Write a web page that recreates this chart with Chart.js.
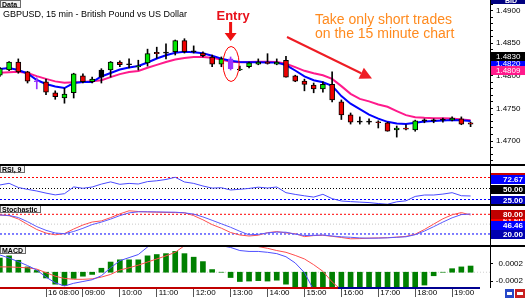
<!DOCTYPE html>
<html><head><meta charset="utf-8">
<script src="https://cdn.jsdelivr.net/npm/chart.js@4.4.0/dist/chart.umd.min.js"></script>
<style>
html,body{margin:0;padding:0;background:#fff;}
#wrap{position:relative;width:525px;height:298px;overflow:hidden;background:#fff;}
#wrap canvas{position:absolute;left:0;top:0;width:525px;height:298px;}
.ln{position:absolute;}
</style></head><body>
<div id="wrap">
<canvas id="cMain" width="525" height="298"></canvas>
<canvas id="cRsi" width="525" height="298"></canvas>
<canvas id="cSto" width="525" height="298"></canvas>
<canvas id="cMacd" width="525" height="298"></canvas>
<div class="ln" style="left:0;top:164px;width:525px;height:2px;background:#000"></div>
<div class="ln" style="left:0;top:204px;width:525px;height:2px;background:#000"></div>
<div class="ln" style="left:0;top:245px;width:525px;height:2px;background:#000"></div>
<div class="ln" style="left:490px;top:0;width:1px;height:288px;background:#000"></div>
<div class="ln" style="left:0;top:287px;width:338px;height:2px;background:#c00000"></div>
<div class="ln" style="left:338px;top:287px;width:142px;height:2px;background:#000090"></div>
<div class="ln" style="left:505px;top:289px;width:9px;height:9px;background:#2848c8"></div>
<div class="ln" style="left:507px;top:292px;width:5px;height:3px;background:#fff"></div>
<div class="ln" style="left:515px;top:289px;width:10px;height:9px;background:#c82020"></div>
<div class="ln" style="left:517px;top:292px;width:6px;height:3px;background:#fff"></div>
</div>
<script>
// ---------- DATA ----------
const times = ['06:45','07:00','07:15','07:30','07:45','08:00','08:15','08:30','08:45','09:00','09:15','09:30','09:45','10:00','10:15','10:30','10:45','11:00','11:15','11:30','11:45','12:00','12:15','12:30','12:45','13:00','13:15','13:30','13:45','14:00','14:15','14:30','14:45','15:00','15:15','15:30','15:45','16:00','16:15','16:30','16:45','17:00','17:15','17:30','17:45','18:00','18:15','18:30','18:45','19:00','19:15','19:30'];
const tickTimes = ['08:00','09:00','10:00','11:00','12:00','13:00','14:00','15:00','16:00','17:00','18:00','19:00'];
const tickLabels = ['16 08:00','09:00','10:00','11:00','12:00','13:00','14:00','15:00','16:00','17:00','18:00','19:00'];

const open  = [1.4801,1.4809,1.4821,1.4806,1.4791,1.4791,1.4774,1.4766,1.4774,1.4800,1.4791,1.4798,1.4809,1.4821,1.4817,1.4814,1.4820,1.4836,1.4835,1.4837,1.4854,1.4837,1.4835,1.4829,1.4818,1.4826,1.4809,1.4814,1.4818,1.4821,1.4818,1.4824,1.4800,1.4792,1.4786,1.4780,1.4787,1.4760,1.4740,1.4729,1.4729,1.4729,1.4728,1.4717,1.4720,1.4717,1.4731,1.4731,1.4732,1.4732,1.4734,1.4728];
const high  = [1.4813,1.4822,1.4826,1.4807,1.4797,1.4795,1.4777,1.4781,1.4804,1.4803,1.4798,1.4811,1.4822,1.4823,1.4826,1.4824,1.4841,1.4844,1.4849,1.4855,1.4857,1.4846,1.4837,1.4832,1.4829,1.4829,1.4815,1.4821,1.4826,1.4834,1.4826,1.4830,1.4801,1.4795,1.4789,1.4791,1.4806,1.4763,1.4743,1.4737,1.4734,1.4731,1.4729,1.4723,1.4725,1.4732,1.4734,1.4734,1.4735,1.4737,1.4737,1.4729];
const low   = [1.4799,1.4808,1.4804,1.4789,1.4780,1.4771,1.4764,1.4758,1.4766,1.4789,1.4789,1.4789,1.4798,1.4814,1.4812,1.4809,1.4815,1.4827,1.4826,1.4832,1.4835,1.4835,1.4829,1.4814,1.4814,1.4809,1.4808,1.4812,1.4817,1.4818,1.4817,1.4798,1.4791,1.4777,1.4774,1.4775,1.4760,1.4733,1.4726,1.4726,1.4726,1.4720,1.4715,1.4706,1.4717,1.4715,1.4728,1.4728,1.4729,1.4731,1.4725,1.4722];
const close = [1.4811,1.4821,1.4806,1.4792,1.4791,1.4775,1.4768,1.4772,1.4803,1.4791,1.4795,1.4809,1.4821,1.4817,1.4817,1.4815,1.4834,1.4834,1.4835,1.4854,1.4837,1.4837,1.4831,1.4818,1.4826,1.4811,1.4810,1.4820,1.4821,1.4819,1.4821,1.4798,1.4792,1.4787,1.4780,1.4787,1.4763,1.4740,1.4729,1.4729,1.4729,1.4728,1.4715,1.4720,1.4718,1.4731,1.4731,1.4731,1.4732,1.4735,1.4726,1.4726];
const maFast = [1.48105,1.48120,1.48090,1.48036,1.47936,1.47875,1.47836,1.47813,1.47890,1.47905,1.47905,1.47990,1.48044,1.48097,1.48128,1.48151,1.48205,1.48266,1.48315,1.48354,1.48369,1.48363,1.48346,1.48309,1.48264,1.48231,1.48212,1.48209,1.48208,1.48206,1.48203,1.48166,1.48082,1.47993,1.47933,1.47902,1.47847,1.47690,1.47572,1.47491,1.47406,1.47343,1.47294,1.47267,1.47261,1.47279,1.47301,1.47308,1.47314,1.47322,1.47320,1.47307];
const maSlow = [1.48048,1.48056,1.48062,1.48044,1.47996,1.47953,1.47915,1.47895,1.47901,1.47905,1.47916,1.47933,1.47981,1.48027,1.48060,1.48076,1.48125,1.48168,1.48212,1.48251,1.48275,1.48288,1.48291,1.48279,1.48249,1.48217,1.48208,1.48212,1.48217,1.48215,1.48214,1.48185,1.48133,1.48077,1.48039,1.48010,1.47953,1.47842,1.47724,1.47646,1.47608,1.47561,1.47526,1.47460,1.47397,1.47365,1.47356,1.47351,1.47348,1.47345,1.47331,1.47319];
const rsi = [58.0,61.8,52.3,48.0,44.3,39.5,35.5,38.2,53.6,50.5,53.4,60.0,65.0,59.5,61.6,60.2,65.7,67.5,70.5,75.5,64.8,61.6,55.7,50.9,51.8,46.6,48.2,50.2,53.0,51.1,53.4,40.5,36.6,33.4,30.5,36.8,27.0,21.6,20.2,19.1,18.0,15.9,14.3,19.8,22.0,32.0,35.2,35.2,37.3,40.5,33.6,33.0];
const rsiLevels = [75, 50, 25];
const stochMain = [77.9,76.6,70.2,57.4,42.5,31.2,23.0,20.8,27.6,37.3,48.6,56.2,65.4,76.0,84.3,87.6,87.6,87.3,86.7,86.4,84.3,80.6,72.1,61.7,51.0,40.4,28.2,17.5,18.7,23.3,25.7,25.4,19.3,15.4,15.7,16.9,13.8,11.4,9.9,8.0,7.1,7.4,8.3,9.9,11.4,17.8,28.8,42.2,56.2,69.3,79.1,80.9];
const stochSignal = [77.9,75.7,65.7,49.2,33.7,22.7,17.5,21.2,35.2,47.4,56.5,59.9,69.9,81.2,90.7,88.5,87.3,86.4,85.8,85.2,84.9,76.0,63.2,48.6,37.6,24.5,16.9,13.8,16.3,23.9,27.3,23.3,20.8,12.0,15.1,16.0,12.9,9.3,5.3,5.9,7.4,8.0,8.7,10.5,12.6,19.3,33.7,50.1,66.3,78.5,85.2,77.9];
const stochLevels = [80, 50, 20];
const macdHist = [0.00032,0.00037,0.00027,0.00012,0.00004,-0.00013,-0.00027,-0.00030,-0.00014,-0.00009,-0.00005,0.00009,0.00023,0.00028,0.00028,0.00028,0.00037,0.00040,0.00042,0.00047,0.00042,0.00034,0.00024,0.00006,0,-0.00012,-0.00021,-0.00020,-0.00019,-0.00020,-0.00018,-0.00027,-0.00038,-0.00045,-0.00050,-0.00055,-0.00060,-0.00062,-0.00063,-0.00062,-0.00060,-0.00058,-0.00055,-0.00050,-0.00045,-0.00033,-0.00029,-0.00008,0,0.00008,0.00012,0.00014];
const macdMain = [0.00039,0.00032,0.00024,0.00015,0.00005,-0.00011,-0.00024,-0.00031,-0.00025,-0.00021,-0.00017,-0.00008,0.00010,0.00026,0.00033,0.00040,0.00057,0.00070,0.00080,0.00088,0.00090,0.00086,0.00078,0.00068,0.00060,0.00056,0.00049,0.00047,0.00047,0.00045,0.00042,0.00035,0.00021,-0.00001,-0.00040,-0.00058,-0.00075,-0.00088,-0.00095,-0.00098,-0.00098,-0.00096,-0.00092,-0.00088,-0.00083,-0.00077,-0.00070,-0.00064,-0.00058,-0.00052,-0.00047,-0.00043];
const macdSignal = [0.00012,0.00012,0.00011,0.00010,0.00007,-0.00001,-0.00009,-0.00014,-0.00016,-0.00016,-0.00015,-0.00011,-0.00005,0.00005,0.00010,0.00016,0.00023,0.00030,0.00037,0.00045,0.00060,0.00066,0.00070,0.00072,0.00072,0.00070,0.00066,0.00061,0.00058,0.00054,0.00049,0.00045,0.00038,0.00030,0.00017,0.00002,-0.00022,-0.00040,-0.00052,-0.00063,-0.00072,-0.00080,-0.00085,-0.00088,-0.00090,-0.00090,-0.00088,-0.00086,-0.00083,-0.00080,-0.00076,-0.00072];
const macdTicks = [-0.0002, 0.0002];
const priceMarks = [1.4820, 1.4830, 1.4809];
const rsiMarks = [75, 72.67, 50, 25];
const stochMarks = [61.60, 80, 46.46, 20];
const entryTime = '13:00';

// ---------- STYLE / LAYOUT ----------
const FONT = "'Liberation Sans', Arial, sans-serif";
Chart.defaults.font.family = FONT;
Chart.defaults.font.size = 8;
Chart.defaults.color = '#000';
Chart.defaults.animation = false;
Chart.defaults.events = [];
Chart.defaults.plugins.legend.display = false;
Chart.defaults.plugins.tooltip.enabled = false;

const X_MIN = 0.016, X_MAX = 53.104;
const idx = times.map((t, i) => i);
const tickIdx = tickTimes.map(t => times.indexOf(t));
const entryIdx = times.indexOf(entryTime);
const special = {4: '#9933ff', 25: '#9933ff', 11: '#000000'};
const BULL = '#00e600', BEAR = '#ee0000';

function xAxis() {
  return {type: 'linear', min: X_MIN, max: X_MAX, offset: false, display: false, grid: {offset: false}};
}
function yRight(min, max, extra) {
  return Object.assign({
    position: 'right', min, max,
    afterFit(s) { s.width = 35; s.paddingTop = 0; s.paddingBottom = 0; },
    ticks: {display: false},
    grid: {display: false, drawOnChartArea: false},
    border: {display: true, color: '#000', width: 1}
  }, extra || {});
}
function series(arr) { return idx.map(i => ({x: i, y: arr[i]})); }
function level(v) { return [{x: X_MIN, y: v}, {x: X_MAX, y: v}]; }
function lineDs(data, color, width, dash, order) {
  return {type: 'line', data, borderColor: color, borderWidth: width, borderDash: dash || [], pointRadius: 0, tension: 0, fill: false, order: order || 0};
}

function drawTag(ctx, text, x, y) {
  ctx.save();
  ctx.font = 'bold 7px ' + FONT;
  const w = Math.ceil(ctx.measureText(text).width) + 5;
  ctx.fillStyle = '#f2f2f2'; ctx.fillRect(x, y, w, 8);
  ctx.strokeStyle = '#6a6a6a'; ctx.lineWidth = 1; ctx.strokeRect(x + 0.5, y + 0.5, w - 1, 7);
  ctx.fillStyle = '#000'; ctx.textAlign = 'left'; ctx.textBaseline = 'alphabetic';
  ctx.fillText(text, x + 2, y + 7);
  ctx.restore();
}

const panelPlugin = {
  id: 'panel',
  afterDraw(chart, args, opts) {
    const ctx = chart.ctx, y = chart.scales.y;
    (opts.items || []).forEach(it => {
      const py = Math.round(y.getPixelForValue(it.v));
      ctx.save();
      ctx.fillStyle = it.bg; ctx.fillRect(491, py - 4, 34, 9);
      ctx.fillStyle = '#fff';
      ctx.font = (opts.bold ? 'bold ' : '') + '8px ' + FONT;
      ctx.textBaseline = 'middle';
      if (opts.left) { ctx.textAlign = 'left'; ctx.fillText(it.text, 496, py + 0.5); }
      else { ctx.textAlign = 'right'; ctx.fillText(it.text, 523, py + 0.5); }
      ctx.restore();
    });
    if (opts.tag) drawTag(ctx, opts.tag, 0, chart.chartArea.top - 1);
  }
};

const annotPlugin = {
  id: 'annot',
  afterDraw(chart) {
    const ctx = chart.ctx, xs = chart.scales.x, ys = chart.scales.y;
    ctx.save();
    // Data button
    drawTag(ctx, 'Data', 0, 0);
    // BID box
    ctx.fillStyle = '#000080'; ctx.fillRect(491, 0, 34, 4);
    ctx.fillStyle = '#fff'; ctx.font = 'bold 7px ' + FONT; ctx.textAlign = 'left'; ctx.textBaseline = 'alphabetic';
    ctx.fillText('BID', 505, 3);
    // title
    ctx.fillStyle = '#000'; ctx.font = '9px ' + FONT;
    ctx.fillText('GBPUSD, 15 min - British Pound vs US Dollar', 3, 17);
    // entry marker
    const ex = xs.getPixelForValue(entryIdx);
    const ey = ys.getPixelForValue((high[entryIdx] + low[entryIdx]) / 2);
    ctx.fillStyle = '#e8101a'; ctx.font = 'bold 13px ' + FONT; ctx.textAlign = 'center';
    ctx.fillText('Entry', ex + 2.5, 19.5);
    ctx.fillStyle = '#ee1111';
    ctx.fillRect(ex - 1.5, 22, 3, 12);
    ctx.beginPath(); ctx.moveTo(ex - 6, 33); ctx.lineTo(ex + 6, 33); ctx.lineTo(ex, 41); ctx.closePath(); ctx.fill();
    ctx.strokeStyle = '#ff0000'; ctx.lineWidth = 1;
    ctx.beginPath(); ctx.ellipse(ex + 0.5, ey + 0.5, 8, 17.5, 0, 0, Math.PI * 2); ctx.stroke();
    // orange text
    ctx.fillStyle = '#ff8a1e'; ctx.font = '14px ' + FONT; ctx.textAlign = 'left';
    ctx.fillText('Take only short trades', 315, 24);
    ctx.fillText('on the 15 minute chart', 315, 37.5);
    // diagonal arrow
    const x0 = 287, y0 = 37, tx = 372, ty = 78.5;
    const dx = tx - x0, dy = ty - y0, L = Math.hypot(dx, dy), ux = dx / L, uy = dy / L;
    const bx = tx - 12 * ux, by = ty - 12 * uy;
    ctx.strokeStyle = '#ee1c24'; ctx.lineWidth = 2;
    ctx.beginPath(); ctx.moveTo(x0, y0); ctx.lineTo(bx, by); ctx.stroke();
    ctx.fillStyle = '#ee1c24';
    ctx.beginPath(); ctx.moveTo(tx, ty); ctx.lineTo(bx - 6 * uy, by + 6 * ux); ctx.lineTo(bx + 6 * uy, by - 6 * ux); ctx.closePath(); ctx.fill();
    ctx.restore();
  }
};

function candleFill(i) {
  if (special[i]) return special[i];
  if (close[i] > open[i]) return BULL;
  if (close[i] < open[i]) return BEAR;
  return '#000';
}
function candleLine(i) { return special[i] === '#9933ff' ? '#9933ff' : '#000'; }

const base = {responsive: false, maintainAspectRatio: false, devicePixelRatio: 1, animation: false};

// ---------- MAIN ----------
new Chart(document.getElementById('cMain'), {
  type: 'bar',
  data: {datasets: [
    lineDs(series(maSlow), '#ff1a8c', 2, null, 4),
    lineDs(series(maFast), '#0000ff', 2, null, 3),
    {type: 'bar', data: idx.map(i => ({x: i, y: [low[i], high[i]]})), backgroundColor: idx.map(candleLine),
     barThickness: 1, grouped: false, order: 2},
    {type: 'bar', data: idx.map(i => ({x: i, y: [Math.min(open[i], close[i]), Math.max(open[i], close[i])]})),
     backgroundColor: idx.map(candleFill), borderColor: idx.map(candleLine), borderWidth: 1, borderSkipped: false,
     barThickness: 5, minBarLength: 1, grouped: false, order: 1}
  ]},
  options: Object.assign({}, base, {
    layout: {padding: {top: 0, left: 0, right: 0, bottom: 136}},
    scales: {
      x: xAxis(),
      y: yRight(1.466777, 1.491642, {
        ticks: {display: true, stepSize: 0.001, autoSkip: false, padding: 3, color: '#000', includeBounds: false,
          font: {size: 8, family: FONT},
          callback: v => (Math.round(v * 1000) % 5 === 0 ? v.toFixed(4) : '')},
        grid: {display: true, drawOnChartArea: false, drawTicks: true, tickLength: 3, color: '#000'}
      })
    },
    plugins: {panel: {left: true, items: [
      {v: priceMarks[0], text: priceMarks[0].toFixed(4), bg: '#0000ff'},
      {v: priceMarks[1], text: priceMarks[1].toFixed(4), bg: '#000000'},
      {v: priceMarks[2], text: priceMarks[2].toFixed(4), bg: '#ff1a8c'}
    ]}}
  }),
  plugins: [panelPlugin, annotPlugin]
});

// ---------- RSI ----------
new Chart(document.getElementById('cRsi'), {
  type: 'line',
  data: {datasets: [
    lineDs(level(rsiLevels[0]), '#ff0000', 1, [2, 2], 2),
    lineDs(level(rsiLevels[1]), '#000000', 1, [1, 2], 2),
    lineDs(level(rsiLevels[2]), '#0000ff', 1, [2, 2], 2),
    lineDs(series(rsi), '#4a4aff', 1, null, 1)
  ]},
  options: Object.assign({}, base, {
    layout: {padding: {top: 166, left: 0, right: 0, bottom: 94}},
    scales: {x: xAxis(), y: yRight(14.8, 101.1)},
    plugins: {panel: {tag: 'RSI, 9', bold: true, items: [
      {v: rsiMarks[0], text: rsiMarks[0].toFixed(2), bg: '#cc0000'},
      {v: rsiMarks[1], text: rsiMarks[1].toFixed(2), bg: '#0000ff'},
      {v: rsiMarks[2], text: rsiMarks[2].toFixed(2), bg: '#000000'},
      {v: rsiMarks[3], text: rsiMarks[3].toFixed(2), bg: '#0000c0'}
    ]}}
  }),
  plugins: [panelPlugin]
});

// ---------- STOCHASTIC ----------
new Chart(document.getElementById('cSto'), {
  type: 'line',
  data: {datasets: [
    lineDs(level(stochLevels[0]), '#ff0000', 1, [2, 2], 3),
    lineDs(level(stochLevels[1]), '#c8c8c8', 1, [1, 2], 3),
    lineDs(level(stochLevels[2]), '#0000ff', 1, [2, 2], 3),
    lineDs(series(stochSignal), '#ff5050', 1, null, 2),
    lineDs(series(stochMain), '#5a5aff', 1, null, 1)
  ]},
  options: Object.assign({}, base, {
    layout: {padding: {top: 206, left: 0, right: 0, bottom: 53}},
    scales: {x: xAxis(), y: yRight(-13.6, 105.3)},
    plugins: {panel: {tag: 'Stochastic', bold: true, items: [
      {v: stochMarks[0], text: stochMarks[0].toFixed(2), bg: '#ff0000'},
      {v: stochMarks[1], text: stochMarks[1].toFixed(2), bg: '#c00000'},
      {v: stochMarks[2], text: stochMarks[2].toFixed(2), bg: '#0000ff'},
      {v: stochMarks[3], text: stochMarks[3].toFixed(2), bg: '#0000b0'}
    ]}}
  }),
  plugins: [panelPlugin]
});

// ---------- MACD ----------
const macdX = xAxis();
Object.assign(macdX, {
  display: true, position: 'bottom',
  afterBuildTicks(s) { s.ticks = tickIdx.map(v => ({value: v})); },
  afterFit(s) { s.height = 11; s.paddingLeft = 0; s.paddingRight = 0; },
  ticks: {autoSkip: false, maxRotation: 0, minRotation: 0, align: 'start', labelOffset: 2, padding: -9, color: '#000',
    font: {size: 8, family: FONT}, callback: (v, i) => tickLabels[i]},
  grid: {display: true, offset: false, drawOnChartArea: false, drawTicks: true, tickLength: 10, color: '#555'},
  border: {display: false}
});
new Chart(document.getElementById('cMacd'), {
  type: 'bar',
  data: {datasets: [
    lineDs(level(0), '#d0d0d0', 1, [1, 2], 4),
    {type: 'bar', data: series(macdHist), backgroundColor: '#008000', barThickness: 5, grouped: false, order: 3},
    lineDs(series(macdSignal), '#ff4d4d', 1, null, 2),
    lineDs(series(macdMain), '#4d4dff', 1, null, 1)
  ]},
  options: Object.assign({}, base, {
    layout: {padding: {top: 247, left: 0, right: 2, bottom: 0}},
    scales: {
      x: macdX,
      y: yRight(-0.000334, 0.00057, {
        afterFit(s) { s.width = 33; s.paddingTop = 0; s.paddingBottom = 0; },
        afterBuildTicks(s) { s.ticks = macdTicks.map(v => ({value: v})); },
        ticks: {display: true, autoSkip: false, crossAlign: 'far', padding: 3, color: '#000',
          font: {size: 8, family: FONT}, callback: v => v.toFixed(4)},
        grid: {display: true, drawOnChartArea: false, drawTicks: true, tickLength: 3, color: '#000'}
      })
    },
    plugins: {panel: {tag: 'MACD', items: []}}
  }),
  plugins: [panelPlugin]
});
</script>
</body></html>
